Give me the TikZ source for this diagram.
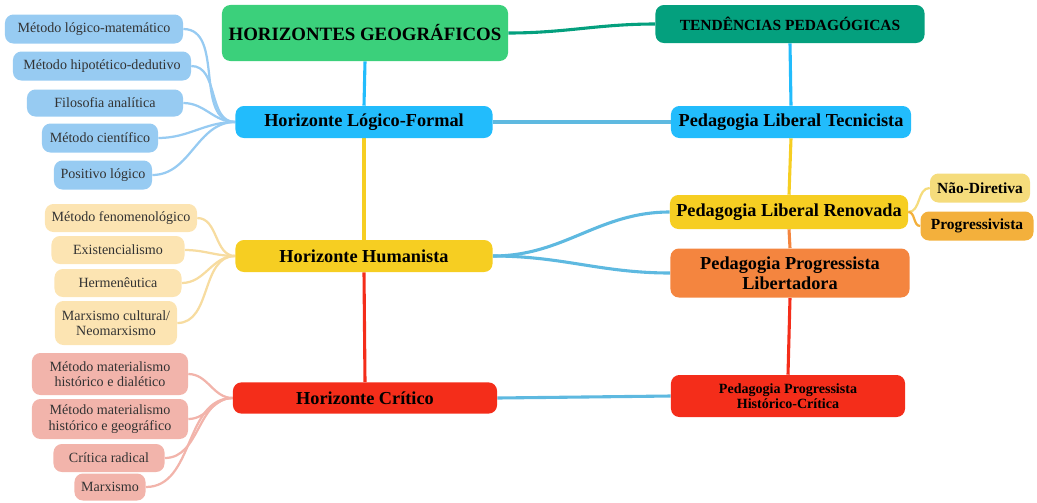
\documentclass[tikz,border=0pt]{standalone}
\usepackage{fontspec}
\setmainfont{Liberation Serif}
\usetikzlibrary{backgrounds}
\definecolor{rootgreen}{HTML}{3BD07B}
\definecolor{tealc}{HTML}{04A07E}
\definecolor{skyb}{HTML}{22BCFC}
\definecolor{goldc}{HTML}{F6CE22}
\definecolor{paleyellow}{HTML}{F5DC7C}
\definecolor{ambarc}{HTML}{F3B03C}
\definecolor{orangec}{HTML}{F4853F}
\definecolor{redc}{HTML}{F42D1A}
\definecolor{leafblue}{HTML}{97CBF2}
\definecolor{leafcream}{HTML}{FCE4B2}
\definecolor{creamline}{HTML}{F7DCA0}
\definecolor{leafpink}{HTML}{F2B4AB}
\definecolor{linkblue}{HTML}{5EB9E0}
\definecolor{leaftext}{HTML}{333333}
\begin{document}
\begin{tikzpicture}[x=0.025cm, y=-0.025cm, line cap=round, line join=round]
	\tikzset{box/.style={rounded corners=6pt, inner sep=0pt, align=center, text=black},
		leaf/.style={box, text=leaftext, font=\fontsize{10}{11}\selectfont},
		head/.style={box, font=\bfseries\fontsize{13}{14}\selectfont},
		stem/.style={line width=2.2pt},
		twig/.style={line width=1.6pt}}
	\useasboundingbox (0,0) rectangle (1037,502);
	% main nodes
	\node[head, fill=rootgreen, minimum width=7.15cm, minimum height=1.4cm, font=\bfseries\fontsize{13.4}{15}\selectfont] (root) at (365,33) {HORIZONTES GEOGRÁFICOS};
	\node[head, fill=tealc, minimum width=6.725cm, minimum height=0.95cm, font=\bfseries\fontsize{11}{12}\selectfont] (tend) at (790,24) {TENDÊNCIAS PEDAGÓGICAS};
	\node[head, fill=skyb, minimum width=6.425cm, minimum height=0.8cm] (lf) at (364,122) {Horizonte Lógico-Formal};
	\node[head, fill=skyb, minimum width=6cm, minimum height=0.8cm] (tec) at (791,122) {Pedagogia Liberal Tecnicista};
	\node[head, fill=goldc, minimum width=6.425cm, minimum height=0.8cm] (hum) at (364,256) {Horizonte Humanista};
	\node[head, fill=goldc, minimum width=5.95cm, minimum height=0.85cm] (ren) at (789,212) {Pedagogia Liberal Renovada};
	\node[head, fill=paleyellow, minimum width=2.5cm, minimum height=0.725cm, font=\bfseries\fontsize{11}{12}\selectfont] (nd) at (980,188) {Não-Diretiva};
	\node[head, fill=ambarc, minimum width=2.825cm, minimum height=0.725cm, font=\bfseries\fontsize{11}{12}\selectfont] (prv) at (977,226) {Progressivista};
	\node[head, fill=orangec, minimum width=5.975cm, minimum height=1.225cm] (lib) at (790,273) {Pedagogia Progressista\\Libertadora};
	\node[head, fill=redc, minimum width=6.6cm, minimum height=0.78cm] (cri) at (365,398) {Horizonte Crítico};
	\node[head, fill=redc, minimum width=5.85cm, minimum height=1.05cm, font=\bfseries\fontsize{10}{11}\selectfont] (hc) at (788,396) {Pedagogia Progressista\\Histórico-Crítica};
	% leaves of the logical-formal horizon
	\node[leaf, fill=leafblue, minimum width=4.45cm, minimum height=0.725cm] (a1) at (94,29) {Método lógico-matemático};
	\node[leaf, fill=leafblue, minimum width=4.45cm, minimum height=0.725cm] (a2) at (102,66) {Método hipotético-dedutivo};
	\node[leaf, fill=leafblue, minimum width=3.9cm, minimum height=0.675cm] (a3) at (105,103) {Filosofia analítica};
	\node[leaf, fill=leafblue, minimum width=2.9cm, minimum height=0.725cm] (a4) at (100,138) {Método científico};
	\node[leaf, fill=leafblue, minimum width=2.45cm, minimum height=0.725cm] (a5) at (103,175) {Positivo lógico};
	% leaves of the humanist horizon
	\node[leaf, fill=leafcream, minimum width=3.8cm, minimum height=0.7cm] (b1) at (121,218) {Método fenomenológico};
	\node[leaf, fill=leafcream, minimum width=3.325cm, minimum height=0.7cm] (b2) at (118,250) {Existencialismo};
	\node[leaf, fill=leafcream, minimum width=3.175cm, minimum height=0.7cm] (b3) at (118,283) {Hermenêutica};
	\node[leaf, fill=leafcream, minimum width=3.05cm, minimum height=1.1cm] (b4) at (116,323) {Marxismo cultural/\\Neomarxismo};
	% leaves of the critical horizon
	\node[leaf, fill=leafpink, minimum width=3.9cm, minimum height=1.05cm] (c1) at (110,374) {Método materialismo\\histórico e dialético};
	\node[leaf, fill=leafpink, minimum width=3.9cm, minimum height=1cm] (c2) at (110,419) {Método materialismo\\histórico e geográfico};
	\node[leaf, fill=leafpink, minimum width=2.775cm, minimum height=0.7cm] (c3) at (109,458) {Crítica radical};
	\node[leaf, fill=leafpink, minimum width=1.775cm, minimum height=0.675cm] (c4) at (110,487) {Marxismo};
	\begin{scope}[on background layer]
		\draw[stem, skyb] (root.south) -- (lf.north);
		\draw[stem, tealc] (root.east) to[out=0, in=180] (tend.west);
		\draw[stem, skyb] (tend.south) -- (tec.north);
		\draw[stem, goldc] (lf.south) -- (hum.north);
		\draw[stem, redc] (hum.south) -- (cri.north);
		\draw[stem, goldc] (tec.south) -- (ren.north);
		\draw[stem, orangec] (ren.south) -- (lib.north);
		\draw[stem, redc] (lib.south) -- (hc.north);
		\draw[stem, linkblue] (lf.east) -- (tec.west);
		\draw[stem, linkblue] (hum.east) to[out=0, in=180] (ren.west);
		\draw[stem, linkblue] (hum.east) to[out=0, in=180] (lib.west);
		\draw[stem, linkblue] (cri.east) -- (hc.west);
		\draw[twig, paleyellow] (ren.east) to[out=0, in=180] (nd.west);
		\draw[twig, ambarc] (ren.east) to[out=0, in=180] (prv.west);
		\foreach \c in {a1,a2,a3,a4,a5}\draw[twig, leafblue] (lf.west) to[out=180, in=0] (\c.east);
		\foreach \c in {b1,b2,b3,b4}\draw[twig, creamline] (hum.west) to[out=180, in=0] (\c.east);
		\foreach \c in {c1,c2,c3,c4}\draw[twig, leafpink] (cri.west) to[out=180, in=0] (\c.east);
	\end{scope}
\end{tikzpicture}
\end{document}
